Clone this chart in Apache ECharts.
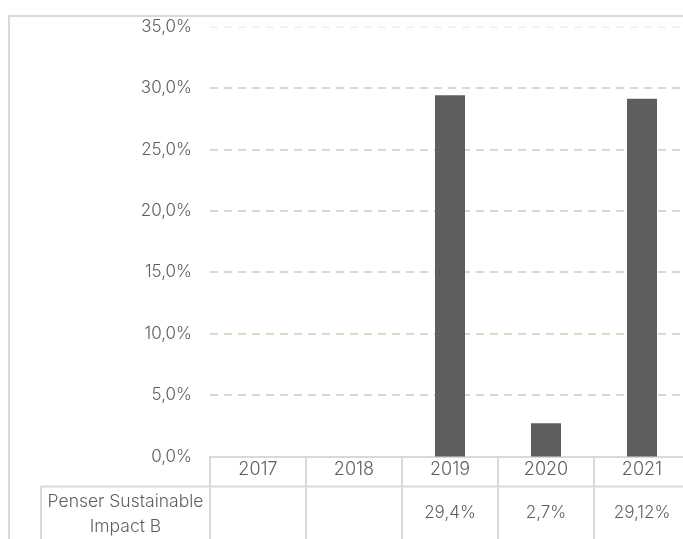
<!DOCTYPE html>
<html><head><meta charset="utf-8">
<script src="https://cdn.jsdelivr.net/npm/echarts@6/dist/echarts.min.js"></script>
<style>html,body{margin:0;padding:0;background:#fff}#c{width:683px;height:539px}</style>
</head><body><div id="c"></div>
<script>
const categories = ['2017', '2018', '2019', '2020', '2021'];
const seriesName = 'Penser Sustainable\nImpact B';
const values = [null, null, 29.4, 2.7, 29.12];
const tableLabels = ['', '', '29,4%', '2,7%', '29,12%'];
const yTicks = [0, 5, 10, 15, 20, 25, 30, 35];

const FONT = 'Inter';
const TXT = '#5f5f5f';
const LINE = '#d9d9d9';
const GRIDC = '#ddd8c2';

const chart = echarts.init(document.getElementById('c'), null, {renderer: 'canvas'});
chart.setOption({
  animation: false,
  textStyle: {fontFamily: FONT},
  grid: {left: 210, top: 26.6, width: 480, height: 429.8, outerBoundsMode: 'none', containLabel: false},
  xAxis: [{
    type: 'category', data: categories, position: 'bottom',
    axisLine: {show: true, lineStyle: {color: LINE, width: 2}},
    axisTick: {show: true, length: 90, lineStyle: {color: LINE, width: 2}},
    axisLabel: {color: TXT, fontSize: 18, fontWeight: 300, fontFamily: FONT, margin: 4}
  }, {
    type: 'category', data: tableLabels, position: 'bottom',
    axisLine: {show: false}, axisTick: {show: false},
    axisLabel: {color: TXT, fontSize: 17, fontWeight: 300, fontFamily: FONT, margin: 48, interval: 0}
  }],
  yAxis: {
    type: 'value', min: yTicks[0], max: yTicks[yTicks.length - 1], interval: 5,
    axisLine: {show: false}, axisTick: {show: false},
    axisLabel: {color: TXT, fontSize: 17, fontWeight: 300, fontFamily: FONT, margin: 18,
      formatter: v => v.toFixed(1).replace('.', ',') + '%'},
    splitLine: {show: true, lineStyle: {color: [GRIDC, GRIDC, GRIDC, GRIDC, GRIDC, GRIDC, GRIDC, '#f3f3f1'], width: 2, type: [8, 6]}}
  },
  series: [{
    type: 'bar', name: seriesName, data: values, barWidth: 30,
    itemStyle: {color: '#5e5e5e'}
  }],
  graphic: [
    {type: 'rect', shape: {x: 9, y: 16, width: 700, height: 600}, style: {fill: 'none', stroke: LINE, lineWidth: 2}, silent: true},
    {type: 'line', shape: {x1: 41, y1: 486.5, x2: 700, y2: 486.5}, style: {stroke: LINE, lineWidth: 2}},
    {type: 'line', shape: {x1: 41, y1: 486, x2: 41, y2: 560}, style: {stroke: LINE, lineWidth: 2}},
    {type: 'text', x: 125.5, y: 514.5, style: {text: seriesName, fill: TXT, font: '300 17.5px ' + FONT, align: 'center', verticalAlign: 'middle', lineHeight: 25}}
  ]
});
</script></body></html>
